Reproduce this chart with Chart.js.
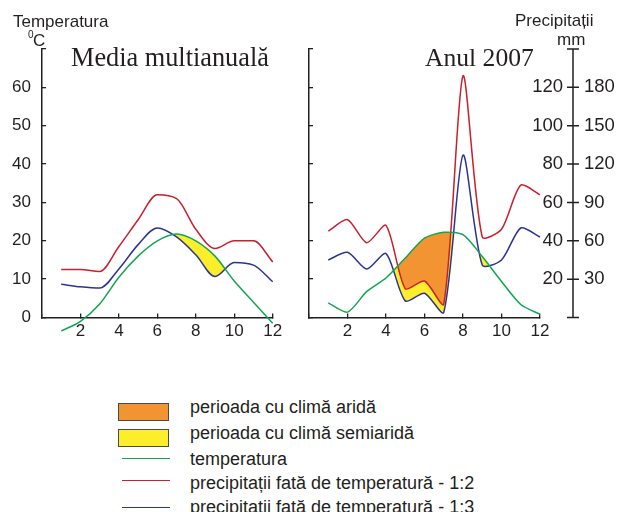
<!DOCTYPE html>
<html lang="ro"><head><meta charset="utf-8">
<script src="https://cdn.jsdelivr.net/npm/chart.js@4.4.1/dist/chart.umd.min.js"></script>
<style>
html,body{margin:0;padding:0;background:#fff;}
body{width:618px;height:512px;position:relative;overflow:hidden;font-family:"Liberation Sans",Arial,sans-serif;color:#231f20;}
.t{position:absolute;white-space:nowrap;line-height:1;}
.serif{font-family:"Liberation Serif","Times New Roman",serif;}
#left{position:absolute;left:0;top:0;}
#right{position:absolute;left:300px;top:0;}
.box{position:absolute;left:118px;width:51px;height:18px;border:1px solid #4a4a4a;box-sizing:border-box;}
.ln{position:absolute;left:122px;width:48px;height:0;border-top:1.5px solid;}
</style></head>
<body>
<canvas id="left" width="300" height="360"></canvas>
<canvas id="right" width="318" height="360"></canvas>

<div class="t" style="left:13px;top:12.6px;font-size:17px">Temperatura</div>
<div class="t" style="left:28px;top:30px;font-size:10px">0</div>
<div class="t" style="left:33px;top:32px;font-size:17px">C</div>
<div class="t serif" style="left:71px;top:45px;font-size:26.3px">Media multianuală</div>
<div class="t serif" style="left:425px;top:45px;font-size:25.6px">Anul 2007</div>
<div class="t" style="left:515px;top:12.3px;font-size:17px">Precipitații</div>
<div class="t" style="left:557px;top:30.6px;font-size:17px">mm</div>

<div id="legend"></div>

<script>
// ---- data ----
const months = [1, 2, 3, 4, 5, 6, 7, 8, 9, 10, 11, 12];
// Media multianuala
const tempMulti     = [-3.5, -1, 3.5, 10.5, 16, 20, 21.8, 20, 16, 9.5, 4, -1.5];   // °C
const precMulti12   = [25, 25, 24, 37, 51, 64, 62, 46, 36, 40, 40, 29];            // mm (scale 1:2)
const precMulti13   = [26, 24, 23, 38, 57, 70, 63, 49, 32, 43, 41, 28];            // mm (scale 1:3)
// Anul 2007
const temp2007      = [3.8, 1.4, 6.8, 10.3, 15.5, 20.7, 22.2, 21.6, 15.9, 9.4, 3.4, 0.8];
const prec2007_12   = [45, 51, 39, 48, 15, 19, 7, 126, 42, 46, 69, 64];
const prec2007_13   = [45, 51, 38, 50, 13, 19, 4, 127, 41, 45, 70, 63];
// ticks
const monthTicks    = [0, 2, 4, 6, 8, 10, 12];
const tempTicks     = [0, 10, 20, 30, 40, 50, 60, 70];
const mm12Ticks     = [0, 20, 40, 60, 80, 100, 120, 140];
const mm13Ticks     = [0, 30, 60, 90, 120, 150, 180, 210];
// legend
const legendItems = [
  {type: 'box', color: '#F39433', label: 'perioada cu climă aridă'},
  {type: 'box', color: '#FCEE2A', label: 'perioada cu climă semiaridă'},
  {type: 'line', color: '#12A650', label: 'temperatura'},
  {type: 'line', color: '#C8202E', label: 'precipitații fată de temperatură - 1:2'},
  {type: 'line', color: '#2B3492', label: 'precipitatii fată de temperatură - 1:3'}
];

const AXIS = '#231f20';
const GREEN = '#12A650', RED = '#C8202E', BLUE = '#2B3492', ORANGE = '#F39433', YELLOW = '#FCEE2A';
const FONT = "'Liberation Sans', Arial, sans-serif";

const pts = arr => months.map((m, i) => ({x: m, y: arr[i]}));
const setTicks = arr => (s) => { s.ticks = arr.map(v => ({value: v})); };
const fixWidth = w => (s) => { s.width = w; s.paddingTop = 0; s.paddingBottom = 0; };

function datasets(temp, p12, p13, smooth) {
  const lineBase = {pointRadius: 0, borderWidth: 1.5, clip: false, fill: false};
  if (smooth === 'mono') lineBase.cubicInterpolationMode = 'monotone';
  else lineBase.tension = smooth;
  return [
    Object.assign({}, lineBase, {label: 'temperatura', data: pts(temp), borderColor: GREEN, yAxisID: 'y'}),
    Object.assign({}, lineBase, {label: '1:2', data: pts(p12), borderColor: RED, yAxisID: 'y2'}),
    Object.assign({}, lineBase, {label: '1:3', data: pts(p13), borderColor: BLUE, yAxisID: 'y3'}),
    Object.assign({}, lineBase, {label: 'arid', data: pts(temp), borderColor: 'transparent', borderWidth: 0, yAxisID: 'y',
      fill: {target: 1, above: ORANGE, below: 'rgba(0,0,0,0)'}}),
    Object.assign({}, lineBase, {label: 'semiarid', data: pts(temp), borderColor: 'transparent', borderWidth: 0, yAxisID: 'y',
      fill: {target: 2, above: YELLOW, below: 'rgba(0,0,0,0)'}})
  ];
}

const xScale = {
  type: 'linear', min: 0, max: 12,
  afterBuildTicks: setTicks(monthTicks),
  afterFit: s => { s.height = 42.5; },
  ticks: {font: {family: FONT, size: 17}, color: AXIS, padding: 8, maxRotation: 0,
    callback: v => v === 0 ? '' : v},
  grid: {drawOnChartArea: false, tickLength: -4, color: AXIS, lineWidth: 1.3},
  border: {color: AXIS, width: 1.5}
};

// vertical precipitation axis line with crossing ticks, placed on the y3 scale
const rightAxisLine = {
  id: 'rightAxisLine',
  afterDraw(chart) {
    const s = chart.scales.y3;
    if (!s || !s.options.display) return;
    const ctx = chart.ctx;
    const x = s.left;
    ctx.save();
    ctx.strokeStyle = AXIS; ctx.lineWidth = 1.5;
    ctx.beginPath();
    ctx.moveTo(x, s.top); ctx.lineTo(x, s.bottom);
    s.ticks.forEach((t, i) => { const y = s.getPixelForTick(i); ctx.moveTo(x - 6, y); ctx.lineTo(x + 6, y); });
    ctx.stroke();
    ctx.restore();
  }
};

const common = {
  responsive: false, animation: false, events: [], devicePixelRatio: 1,
  plugins: {legend: {display: false}, tooltip: {enabled: false}, title: {display: false}}
};

// Left chart
new Chart(document.getElementById('left'), {
  type: 'line',
  data: {datasets: datasets(tempMulti, precMulti12, precMulti13, 'mono')},
  options: Object.assign({}, common, {
    layout: {padding: {left: 0, top: 49, right: 27.3, bottom: 0}},
    scales: {
      x: xScale,
      y: {min: 0, max: 70, afterBuildTicks: setTicks(tempTicks), afterFit: fixWidth(42),
        ticks: {font: {family: FONT, size: 17}, color: AXIS, padding: 15, callback: v => v === 70 ? '' : v},
        grid: {drawOnChartArea: false, tickLength: -4, color: AXIS, lineWidth: 1.3},
        border: {color: AXIS, width: 1.5}},
      y2: {display: false, min: 0, max: 140},
      y3: {display: false, min: 0, max: 210}
    }
  })
});

// Right chart
new Chart(document.getElementById('right'), {
  type: 'line',
  data: {datasets: datasets(temp2007, prec2007_12, prec2007_13, 0.25)},
  options: Object.assign({}, common, {
    layout: {padding: {left: 0, top: 49, right: 0, bottom: 0}},
    scales: {
      x: xScale,
      y: {position: 'left', min: 0, max: 70, afterBuildTicks: setTicks(tempTicks), afterFit: fixWidth(9),
        ticks: {display: false},
        grid: {drawOnChartArea: false, tickLength: -4, color: AXIS, lineWidth: 1.3},
        border: {color: AXIS, width: 1.5}},
      y2: {position: 'right', weight: 1, min: 0, max: 140, afterBuildTicks: setTicks(mm12Ticks), afterFit: fixWidth(33),
        ticks: {font: {family: FONT, size: 18.5}, color: AXIS, mirror: true, padding: 23,
          callback: v => (v === 0 || v === 140) ? '' : v},
        grid: {display: false, drawTicks: false}, border: {display: false}},
      y3: {position: 'right', weight: 2, min: 0, max: 210, afterBuildTicks: setTicks(mm13Ticks), afterFit: fixWidth(45),
        ticks: {font: {family: FONT, size: 18.5}, color: AXIS, padding: 11,
          callback: v => (v === 0 || v === 210) ? '' : v},
        grid: {display: false, drawTicks: false}, border: {display: false}}
    }
  }),
  plugins: [rightAxisLine]
});

// Legend (HTML text)
const lg = document.getElementById('legend');
const boxTops = [403, 429];
const lineYs = [458, 480, 507];
const baselines = [413, 439, 465, 489, 513];
let bi = 0, li = 0;
legendItems.forEach((it, i) => {
  const sw = document.createElement('div');
  if (it.type === 'box') {
    sw.className = 'box'; sw.style.top = boxTops[bi++] + 'px'; sw.style.background = it.color;
  } else {
    sw.className = 'ln'; sw.style.top = lineYs[li++] + 'px'; sw.style.borderTopColor = it.color;
  }
  lg.appendChild(sw);
  const tx = document.createElement('div');
  tx.className = 't';
  tx.style.left = '190px'; tx.style.fontSize = '18px';
  tx.style.top = (baselines[i] - 15.2) + 'px';
  tx.textContent = it.label;
  lg.appendChild(tx);
});
</script>
</body></html>
